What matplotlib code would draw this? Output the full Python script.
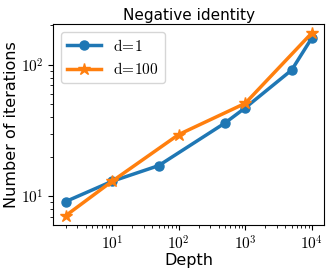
import matplotlib
matplotlib.use("Agg")
import matplotlib.pyplot as plt
from matplotlib.ticker import FuncFormatter, LogLocator
import numpy as np

plt.rcParams['mathtext.fontset'] = 'cm'

# depth vs iterations
depth_d1 = [2, 10, 50, 500, 1000, 5000, 10000]
iters_d1 = [9.1, 13.0, 17.1, 36.2, 47.1, 91.5, 160]
depth_d100 = [2, 10, 100, 1000, 10000]
iters_d100 = [7.1, 13.0, 29.5, 51, 175]


def pow10(v, pos):
    e = int(round(np.log10(v)))
    return r'$10^{%d}$' % e


fig = plt.figure(figsize=(3.33, 2.69), dpi=100)
ax = fig.add_axes([0.160, 0.164, 0.813, 0.747])

ax.plot(depth_d1, iters_d1, marker='o', lw=2.5, ms=6.5, color='#1f77b4', label=r'$\mathrm{d\!=\!1}$')
ax.plot(depth_d100, iters_d100, marker='*', lw=2.5, ms=9, color='#ff7f0e', label=r'$\mathrm{d\!=\!100}$')
ax.set_xscale('log')
ax.set_yscale('log')
ax.xaxis.set_major_locator(LogLocator(base=10))
ax.xaxis.set_major_formatter(FuncFormatter(pow10))
ax.yaxis.set_major_formatter(FuncFormatter(pow10))

ax.set_title('Negative identity', fontsize=11, pad=3)
ax.set_xlabel('Depth', fontsize=11.5, labelpad=0)
ax.set_ylabel('Number of iterations', fontsize=11.5, labelpad=1)
ax.tick_params(labelsize=11)
ax.legend(loc='upper left', fontsize=11, handlelength=2.2)

fig.savefig('out.png', dpi=100)
